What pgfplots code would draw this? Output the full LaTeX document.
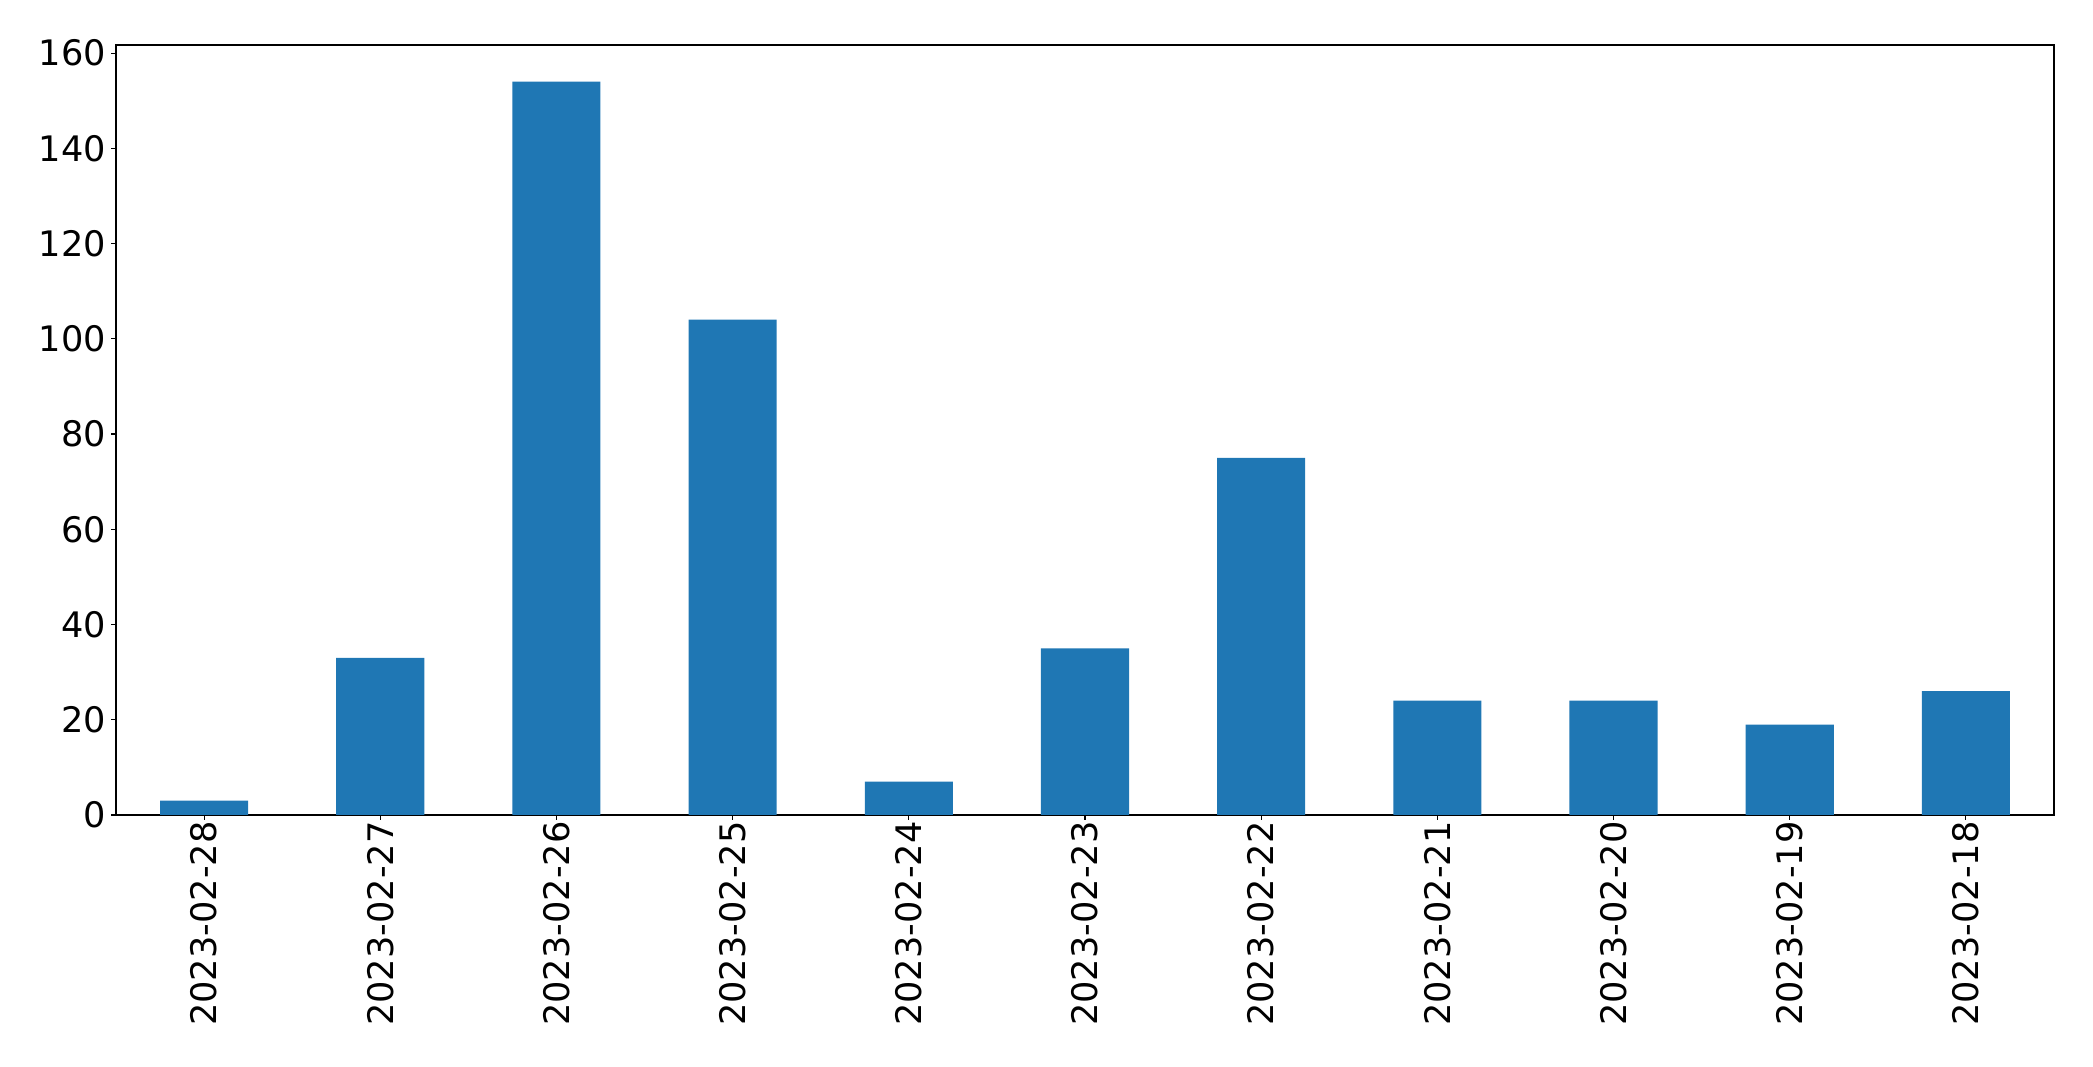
\documentclass[border=0pt]{standalone}
\usepackage{pgfplots}
\pgfplotsset{compat=1.18}
\usepackage{fontspec}
\setmainfont{DejaVu Sans}
\definecolor{mplblue}{HTML}{1F77B4}
\begin{document}
\begin{tikzpicture}
\begin{axis}[
  scale only axis, width=1395.4bp, height=554.4bp,
  xmin=-0.5, xmax=10.5, ymin=0, ymax=161.7,
  xtick={0,1,2,3,4,5,6,7,8,9,10},
  xticklabels={2023-02-28,2023-02-27,2023-02-26,2023-02-25,2023-02-24,2023-02-23,2023-02-22,2023-02-21,2023-02-20,2023-02-19,2023-02-18},
  ytick={0,20,40,60,80,100,120,140,160},
  /pgf/number format/assume math mode=true,
  tick align=outside, tick pos=left,
  major tick length=3.5bp,
  tick style={black, line width=0.8bp},
  axis line style={line width=0.8bp},
  xticklabel style={yshift=-1bp, rotate=90, anchor=east, inner sep=0pt, font=\fontsize{25.3bp}{30bp}\selectfont},
  yticklabel style={anchor=east, inner sep=0pt, font=\fontsize{25.3bp}{30bp}\selectfont, xshift=-3.5bp},
]
\addplot[ybar, bar width=0.5, fill=mplblue, draw=none] coordinates {
(0,3) (1,33) (2,154) (3,104) (4,7) (5,35) (6,75) (7,24) (8,24) (9,19) (10,26)};
\end{axis}
\pgfresetboundingbox
\path[use as bounding box] ([shift={(-83.5bp,-181.4bp)}]current axis.south west) rectangle ([shift={(28.1bp,32.4bp)}]current axis.north east);
\end{tikzpicture}
\end{document}
